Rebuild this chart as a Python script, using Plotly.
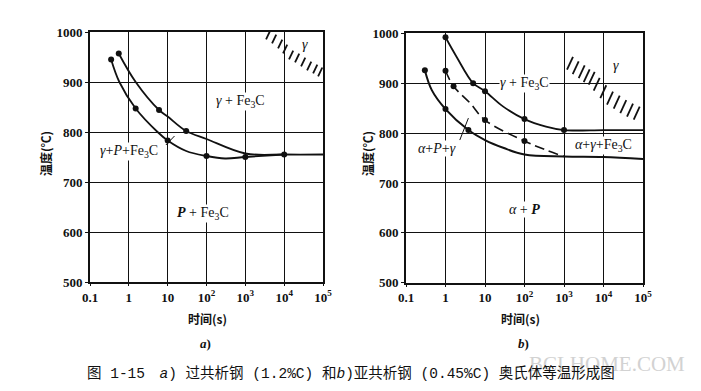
import math
import plotly.graph_objects as go

# ---------------- data ----------------
tick_vals = [0.1, 1, 10, 100, 1000, 10000, 100000]
tick_text = ["0.1", "1", "10", "10<sup>2</sup>", "10<sup>3</sup>", "10<sup>4</sup>", "10<sup>5</sup>"]
temp_ticks = [500, 600, 700, 800, 900, 1000]

# panel a) hypereutectoid steel 1.2%C
a_upper_t = [0.55, 1.5, 6, 10, 30, 100, 1000, 10000, 100000]
a_upper_T = [957, 900, 844, 831, 802, 786, 757, 755, 755]
a_lower_t = [0.35, 0.57, 1.5, 5.5, 10, 30, 100, 300, 1000, 10000]
a_lower_T = [945, 900, 847, 800, 783, 762, 752, 747, 750, 755]
a_dots_t = [0.55, 6, 30, 10000, 0.35, 1.5, 10, 100, 1000]
a_dots_T = [957, 844, 802, 755, 945, 847, 783, 752, 750]
# hatch strokes (centres) marking the γ region boundary
a_hatch_t = [3870, 5520, 7890, 10600, 15100, 21600, 30900, 44100, 63000, 84700]
a_hatch_T = [994, 986, 976, 966, 954, 948, 940, 932, 926, 920]

# panel b) hypoeutectoid steel 0.45%C
b_upper_t = [1, 1.9, 5, 10, 29, 100, 350, 1000, 10000, 100000]
b_upper_T = [992, 953, 900, 884, 853, 828, 813, 806, 806, 806]
b_dash_t = [1, 1.6, 4.2, 10, 100, 350, 1000]
b_dash_T = [925, 894, 860, 826, 784, 766, 753]
b_lower_t = [0.3, 0.45, 1, 3.8, 10, 30, 100, 1000, 10000, 100000]
b_lower_T = [926, 886, 848, 806, 786, 770, 757, 753, 752, 748]
b_dots_t = [1, 5, 10, 100, 1000, 1, 1.6, 10, 100, 0.3, 1, 3.8]
b_dots_T = [992, 900, 884, 828, 806, 925, 894, 826, 784, 926, 848, 806]
b_hatch_t = [1419, 1977, 2805, 3755, 5025, 6730, 9890, 14600, 21600, 31700, 46900, 69300]
b_hatch_T = [940, 931, 923, 915, 910, 898, 883, 870, 862, 853, 846, 840]

# labels: (text, time, temperature)
a_labels = [
    ("<i>γ</i> + Fe<sub>3</sub>C", 740, 861),
    ("<i>γ</i>+<i>P</i>+Fe<sub>3</sub>C", 1.0, 761),
    ("<b><i>P</i></b> + Fe<sub>3</sub>C", 81, 638),
    ("<i>γ</i>", 35000, 974),
]
a_leader_t = [9, 15]
a_leader_T = [774, 792]
b_labels = [
    ("<i>γ</i> + Fe<sub>3</sub>C", 100, 900),
    ("<i>α</i>+<i>γ</i>+Fe<sub>3</sub>C", 10000, 776),
    ("<i>α</i>+<i>P</i>+<i>γ</i>", 0.6, 770),
    ("<i>α</i> + <b><i>P</i></b>", 100, 646),
    ("<i>γ</i>", 21000, 936),
]
b_leader_t = [2.3, 3.8]
b_leader_T = [786, 830]

# ---------------- figure ----------------
W, H = 701, 391
fig = go.Figure()
BLACK = "#111111"

def curve(t, T, xa, ya, dash="solid", width=1.8):
    fig.add_trace(go.Scatter(x=t, y=T, mode="lines", xaxis=xa, yaxis=ya,
                             line=dict(color=BLACK, width=width, dash=dash,
                                       shape="spline", smoothing=1.0),
                             hoverinfo="skip", showlegend=False))

def dots(t, T, xa, ya):
    fig.add_trace(go.Scatter(x=t, y=T, mode="markers", xaxis=xa, yaxis=ya,
                             marker=dict(color=BLACK, size=6),
                             hoverinfo="skip", showlegend=False))

def hatch(t, T, xa, ya, size):
    fig.add_trace(go.Scatter(x=t, y=T, mode="markers", xaxis=xa, yaxis=ya,
                             marker=dict(symbol="line-ne", size=size, angle=-20,
                                         line=dict(color=BLACK, width=1.8)),
                             cliponaxis=True, hoverinfo="skip", showlegend=False))

def leader(t, T, xa, ya):
    fig.add_trace(go.Scatter(x=t, y=T, mode="lines", xaxis=xa, yaxis=ya,
                             line=dict(color=BLACK, width=1),
                             hoverinfo="skip", showlegend=False))

# panel a
hatch(a_hatch_t, a_hatch_T, "x", "y", 7)
curve(a_upper_t, a_upper_T, "x", "y")
curve(a_lower_t, a_lower_T, "x", "y")
leader(a_leader_t, a_leader_T, "x", "y")
dots(a_dots_t, a_dots_T, "x", "y")

# panel b
hatch(b_hatch_t, b_hatch_T, "x2", "y2", 10)
curve(b_upper_t, b_upper_T, "x2", "y2")
curve(b_dash_t, b_dash_T, "x2", "y2", dash="10px,5px", width=1.6)
curve(b_lower_t, b_lower_T, "x2", "y2", width=2.0)
leader(b_leader_t, b_leader_T, "x2", "y2")
dots(b_dots_t, b_dots_T, "x2", "y2")

tick_font = dict(family="Liberation Serif", size=13, color=BLACK, weight="bold")
label_font = dict(family="Liberation Serif", size=14, color=BLACK)

def xaxis_cfg(dom, anchor):
    return dict(domain=dom, anchor=anchor, type="log", range=[-1, 5], tickvals=tick_vals,
                ticktext=tick_text, showgrid=True, gridcolor=BLACK, gridwidth=1.2,
                showline=True, linecolor=BLACK, linewidth=1.8, mirror=True,
                ticks="outside", ticklen=2, tickcolor=BLACK, tickfont=tick_font,
                zeroline=False, fixedrange=True, automargin=False)

def yaxis_cfg(dom, anchor):
    return dict(domain=dom, anchor=anchor, range=[500, 1000], tickvals=temp_ticks,
                showgrid=True, gridcolor=BLACK, gridwidth=1.2,
                showline=True, linecolor=BLACK, linewidth=1.8, mirror=True,
                ticks="outside", ticklen=3, tickcolor=BLACK, tickfont=tick_font,
                zeroline=False, fixedrange=True, automargin=False)

annotations = []
for txt, t, T in a_labels:
    annotations.append(dict(text=txt, x=math.log10(t), y=T, xref="x", yref="y",
                            xanchor="center", yanchor="middle",
                            showarrow=False, font=label_font, bgcolor="white", borderpad=0))
for txt, t, T in b_labels:
    annotations.append(dict(text=txt, x=math.log10(t), y=T, xref="x2", yref="y2",
                            xanchor="center", yanchor="middle",
                            showarrow=False, font=label_font, bgcolor="white", borderpad=0))

def paper_text(text, xp, yp, font, angle=0):
    annotations.append(dict(text=text, x=xp / W, y=1 - yp / H, xref="paper", yref="paper",
                            xanchor="center", yanchor="middle", textangle=angle,
                            showarrow=False, font=font))

title_font = dict(family="Noto Sans CJK SC", size=12, color=BLACK, weight="bold")
for xp in (45, 367):
    paper_text("温度(℃)", xp, 154, title_font, angle=-90)
for xp in (207, 520):
    paper_text("时间(s)", xp, 318, title_font)
ab_font = dict(family="Liberation Serif", size=13, color=BLACK, weight="bold")
paper_text("<i>a</i>)", 205, 343, ab_font)
paper_text("<i>b</i>)", 523, 343, ab_font)
paper_text("BCLHOME.COM", 607, 364, dict(family="Liberation Serif", size=21, color="#d2d2d2"))
paper_text("图 1-15　<i>a</i>) 过共析钢 (1.2%C) 和<i>b</i>)亚共析钢 (0.45%C) 奥氏体等温形成图",
           351, 373, dict(family="Liberation Mono, Noto Sans CJK SC", size=14.5, color=BLACK))

fig.update_layout(
    width=W, height=H, margin=dict(l=0, r=0, t=0, b=0, autoexpand=False),
    paper_bgcolor="white", plot_bgcolor="white", showlegend=False,
    xaxis=xaxis_cfg([90 / W, 323 / W], "y"),
    yaxis=yaxis_cfg([1 - 282 / H, 1 - 32 / H], "x"),
    xaxis2=xaxis_cfg([406 / W, 643 / W], "y2"),
    yaxis2=yaxis_cfg([1 - 282.7 / H, 1 - 33.3 / H], "x2"),
    annotations=annotations,
)

fig.write_html("out.html", config={"displayModeBar": False},
               post_script="document.body.style.margin='0px';document.body.style.overflow='hidden';")
